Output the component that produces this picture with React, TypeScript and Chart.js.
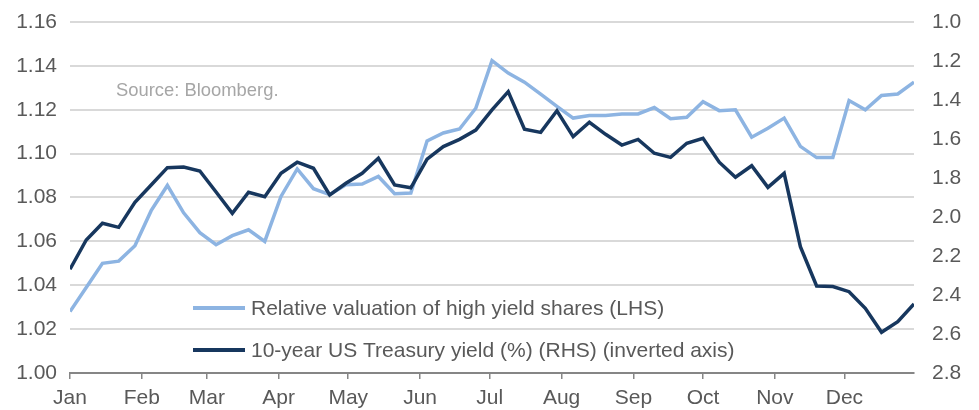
import React, { useEffect, useRef } from "react";
import { Chart, registerables } from "chart.js";

Chart.register(...registerables);

// Day-of-year of each weekly observation
const weekDay = [
  0, 7, 14, 21, 28, 35, 42, 49, 56, 63, 70, 77, 84, 91, 98, 105, 112, 119, 126, 133,
  140, 147, 154, 161, 168, 175, 182, 189, 196, 203, 210, 217, 224, 231, 238, 245, 252,
  259, 266, 273, 280, 287, 294, 301, 308, 315, 322, 329, 336, 343, 350, 357, 364,
];

// Relative valuation of high yield shares (LHS)
const relValuation = [
  1.028, 1.039, 1.05, 1.051, 1.058, 1.074, 1.0855, 1.073, 1.064, 1.0585, 1.0626, 1.0653,
  1.06, 1.0805, 1.093, 1.084, 1.0813, 1.0858, 1.0861, 1.0896, 1.0817, 1.082, 1.1058,
  1.1094, 1.1112, 1.1207, 1.1424, 1.1367, 1.1326, 1.1271, 1.1215, 1.1162, 1.1174,
  1.1174, 1.1181, 1.1181, 1.121, 1.1159, 1.1166, 1.1237, 1.1196, 1.12, 1.1075, 1.1116,
  1.1162, 1.1033, 1.0982, 1.0982, 1.1242, 1.12, 1.1265, 1.1272, 1.1326,
];

// 10-year US Treasury yield (%) (RHS, inverted)
const ustYield = [
  2.268, 2.118, 2.032, 2.053, 1.925, 1.836, 1.747, 1.744, 1.764, 1.872, 1.981, 1.873,
  1.896, 1.776, 1.719, 1.75, 1.887, 1.827, 1.776, 1.699, 1.836, 1.85, 1.703, 1.639,
  1.602, 1.554, 1.451, 1.357, 1.55, 1.566, 1.455, 1.588, 1.514, 1.576, 1.631, 1.602,
  1.673, 1.694, 1.622, 1.596, 1.719, 1.796, 1.737, 1.848, 1.776, 2.152, 2.354, 2.357,
  2.383, 2.468, 2.591, 2.537, 2.446,
];

const monthStartDay = [0, 31, 59, 90, 120, 151, 181, 212, 243, 273, 304, 334];
const monthLabels = ["Jan", "Feb", "Mar", "Apr", "May", "Jun", "Jul", "Aug", "Sep", "Oct", "Nov", "Dec"];

const seriesLabels = [
  "Relative valuation of high yield shares (LHS)",
  "10-year US Treasury yield (%) (RHS) (inverted axis)",
];
const sourceNote = "Source: Bloomberg.";

const LIGHT = "#8db4e2";
const DARK = "#17375e";
const TEXT = "#595959";
const FONT = "'Liberation Sans', Arial, sans-serif";

const overlayPlugin = {
  id: "overlay",
  afterDatasetsDraw(chart: any) {
    const ctx = chart.ctx;
    const area = chart.chartArea;
    ctx.save();
    // source note
    ctx.font = `18.4px ${FONT}`;
    ctx.fillStyle = "#a6a6a6";
    ctx.textBaseline = "middle";
    ctx.textAlign = "left";
    ctx.fillText(sourceNote, area.left + 46, 91);
    // legend
    const rows = [308, 350];
    chart.data.datasets.forEach((ds: any, i: number) => {
      const y = rows[i];
      ctx.strokeStyle = ds.borderColor;
      ctx.lineWidth = 4;
      ctx.lineCap = "butt";
      ctx.beginPath();
      ctx.moveTo(area.left + 123, y);
      ctx.lineTo(area.left + 175, y);
      ctx.stroke();
      ctx.font = `21px ${FONT}`;
      ctx.fillStyle = TEXT;
      ctx.fillText(ds.label, area.left + 181, y + 1);
    });
    ctx.restore();
  },
};

export default function App() {
  const ref = useRef<HTMLCanvasElement | null>(null);

  useEffect(() => {
    if (!ref.current) return;
    const chart = new Chart(ref.current, {
      type: "line",
      data: {
        datasets: [
          {
            label: seriesLabels[0],
            data: weekDay.map((d, i) => ({ x: d, y: relValuation[i] })),
            borderColor: LIGHT,
            backgroundColor: LIGHT,
            borderWidth: 3.5,
            pointRadius: 0,
            tension: 0,
            yAxisID: "y",
            order: 1,
          },
          {
            label: seriesLabels[1],
            data: weekDay.map((d, i) => ({ x: d, y: ustYield[i] })),
            borderColor: DARK,
            backgroundColor: DARK,
            borderWidth: 3.5,
            pointRadius: 0,
            tension: 0,
            yAxisID: "y1",
            order: 0,
          },
        ],
      },
      options: {
        animation: false,
        responsive: false,
        layout: { padding: { top: 22, left: 0, right: 0, bottom: 0 } },
        plugins: {
          legend: { display: false },
          tooltip: { enabled: false },
        },
        scales: {
          x: {
            type: "linear",
            min: 0,
            max: 364,
            afterBuildTicks: (scale: any) => {
              scale.ticks = monthStartDay.map((v) => ({ value: v }));
            },
            afterFit: (scale: any) => {
              scale.height = 37;
              scale.paddingLeft = 0;
              scale.paddingRight = 0;
            },
            ticks: {
              autoSkip: false,
              maxRotation: 0,
              padding: 7,
              color: TEXT,
              font: { family: FONT, size: 21 },
              callback: (v: any) => {
                const idx = monthStartDay.indexOf(Number(v));
                return idx >= 0 ? monthLabels[idx] : "";
              },
            },
            grid: {
              display: true,
              drawOnChartArea: false,
              drawTicks: true,
              tickLength: 6,
              color: "#868686",
              lineWidth: 1.5,
            },
            border: { display: true, color: "#868686", width: 2 },
          },
          y: {
            position: "left",
            min: 1.0,
            max: 1.16,
            afterFit: (scale: any) => {
              scale.width = 70;
              scale.paddingTop = 0;
              scale.paddingBottom = 0;
            },
            ticks: {
              stepSize: 0.02,
              padding: 13,
              color: TEXT,
              font: { family: FONT, size: 21 },
              callback: (v: any) => Number(v).toFixed(2),
            },
            grid: { color: "#d9d9d9", lineWidth: 2, drawTicks: false },
            border: { display: false },
          },
          y1: {
            position: "right",
            min: 1.0,
            max: 2.8,
            reverse: true,
            afterFit: (scale: any) => {
              scale.width = 65;
              scale.paddingTop = 0;
              scale.paddingBottom = 0;
            },
            ticks: {
              stepSize: 0.2,
              padding: 18,
              color: TEXT,
              font: { family: FONT, size: 21 },
              callback: (v: any) => Number(v).toFixed(1),
            },
            grid: { display: false, drawTicks: false },
            border: { display: false },
          },
        },
      },
      plugins: [overlayPlugin],
    });
    return () => chart.destroy();
  }, []);

  return (
    <div style={{ position: "fixed", left: 0, top: 0, width: 979, height: 410, background: "#fff" }}>
      <canvas ref={ref} width={979} height={410} style={{ display: "block" }} />
    </div>
  );
}
